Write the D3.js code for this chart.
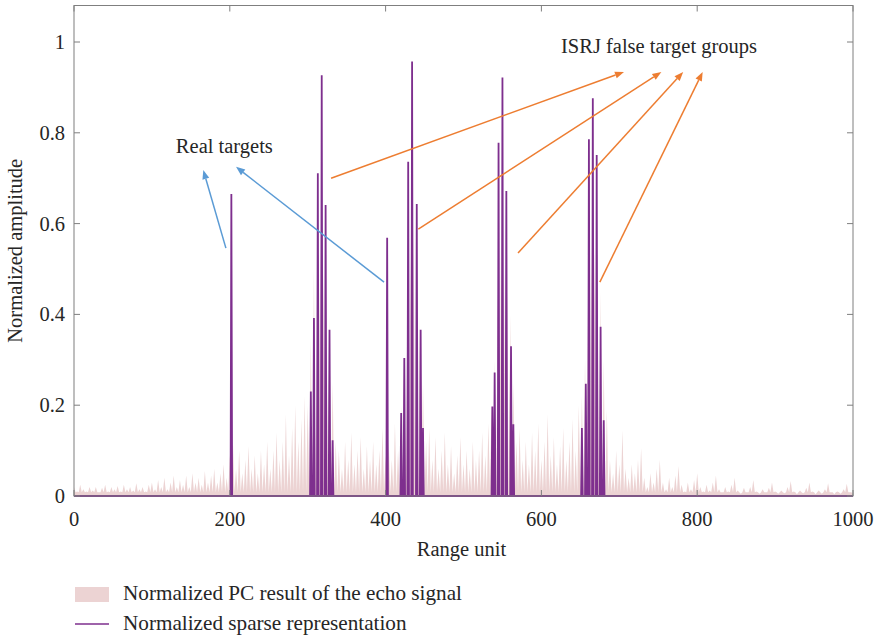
<!DOCTYPE html>
<html><head><meta charset="utf-8">
<script src="https://cdn.jsdelivr.net/npm/d3@7"></script>
<style>body{margin:0;background:#fff}svg{display:block}text{font-family:"Liberation Serif","DejaVu Serif",serif;fill:#262626}</style>
</head><body><svg id="c" width="874" height="637"></svg>
<script>
// ---- data ----
const xTicks = [0, 200, 400, 600, 800, 1000];
const yTicks = [0, 0.2, 0.4, 0.6, 0.8, 1];
const yTickLabels = ["0", "0.2", "0.4", "0.6", "0.8", "1"];
// sparse representation: spike positions (range unit) and amplitudes
const spikePos = [202, 402,
  304, 308, 313, 318, 323, 328, 332,
  420, 424, 429, 434, 440, 445, 448,
  537, 540, 545, 550, 555, 561, 564,
  652, 657, 661, 666, 671, 676, 680];
const spikeAmp = [0.665, 0.569,
  0.23, 0.392, 0.711, 0.927, 0.641, 0.366, 0.123,
  0.183, 0.304, 0.736, 0.957, 0.643, 0.366, 0.15,
  0.197, 0.272, 0.778, 0.922, 0.672, 0.33, 0.158,
  0.15, 0.247, 0.786, 0.876, 0.751, 0.373, 0.167];
// normalized PC result, peak values every 4 range units (0..1000)
const pcStep = 4;
const pcValues = [
  0.02,0.01,0.025,0.015,0.01,0.02,0.012,0.02,0.008,0.018,0.025,0.01,0.02,0.015,0.022,0.01,0.025,0.015,0.02,0.012,0.028,0.015,0.02,0.01,0.025,
  0.03,0.015,0.035,0.02,0.04,0.015,0.03,0.045,0.02,0.035,0.025,0.045,0.02,0.05,0.03,0.04,0.025,0.055,0.03,0.045,0.06,0.03,0.05,0.07,0.04,
  0.09,0.12,0.06,0.1,0.05,0.08,0.11,0.06,0.09,0.05,0.1,0.07,0.12,0.06,0.1,0.14,0.08,0.12,0.18,0.09,0.15,0.2,0.12,0.17,0.22,
  0.2,0.35,0.5,0.45,0.55,0.5,0.45,0.4,0.25,0.12,0.1,0.06,0.12,0.08,0.14,0.07,0.1,0.13,0.06,0.11,0.08,0.12,0.07,0.1,0.15,
  0.09,0.12,0.08,0.16,0.1,0.2,0.3,0.45,0.55,0.6,0.5,0.4,0.25,0.12,0.15,0.08,0.13,0.06,0.1,0.14,0.07,0.11,0.05,0.09,0.13,
  0.07,0.1,0.06,0.12,0.08,0.1,0.14,0.09,0.16,0.2,0.3,0.45,0.55,0.5,0.45,0.4,0.25,0.12,0.15,0.08,0.12,0.07,0.14,0.1,0.16,
  0.08,0.12,0.18,0.09,0.13,0.07,0.11,0.15,0.08,0.12,0.17,0.1,0.2,0.22,0.3,0.45,0.55,0.55,0.5,0.45,0.3,0.19,0.08,0.05,0.1,
  0.07,0.145,0.06,0.04,0.07,0.05,0.08,0.106,0.04,0.02,0.05,0.03,0.06,0.08,0.03,0.015,0.04,0.02,0.045,0.066,0.025,0.01,0.03,0.015,0.035,
  0.05,0.02,0.01,0.025,0.012,0.03,0.045,0.015,0.008,0.02,0.01,0.025,0.04,0.012,0.005,0.018,0.008,0.02,0.035,0.01,0.005,0.015,0.008,0.018,0.03,
  0.01,0.005,0.012,0.006,0.02,0.033,0.01,0.004,0.012,0.006,0.018,0.03,0.01,0.004,0.012,0.005,0.015,0.028,0.008,0.004,0.01,0.005,0.015,0.027,0.008,
  0.004];
// annotations (data coords)
const realLabel = {text: "Real targets", x: 193, y: 0.755};
const isrjLabel = {text: "ISRJ false target groups", x: 751, y: 0.976};
const blueArrows = [[195, 0.546, 166, 0.718], [398, 0.471, 208, 0.725]];
const orangeArrows = [[330, 0.700, 706, 0.934], [442, 0.588, 754, 0.934], [570, 0.535, 782, 0.934], [675, 0.471, 807, 0.934]];
const legendLabels = ["Normalized PC result of the echo signal", "Normalized sparse representation"];

// ---- chart ----
const svg = d3.select("#c");
const L = 74, R = 853, T = 5.5, B = 496;
const x = d3.scaleLinear().domain([0, 1000]).range([L, R]);
const y = d3.scaleLinear().domain([0, 1]).range([B, B - 454]);
const purple = "#7e2f8e", pink = "#ecd3d3", axisCol = "#7f7f7f";

// PC result drawn as a comb of narrow peaks
const pcPts = [];
pcValues.forEach((v, i) => { const c = i * pcStep; pcPts.push([c - pcStep / 2, 0.008], [c, v], [c + pcStep / 2, 0.008]); });
svg.append("path").datum(pcPts.filter(d => d[0] >= 0 && d[0] <= 1000))
  .attr("d", d3.area().x(d => x(d[0])).y0(y(0)).y1(d => y(d[1])))
  .attr("fill", pink).attr("stroke", "none");

// sparse line
const order = d3.range(spikePos.length).sort((a, b) => spikePos[a] - spikePos[b]);
const sp = [[0, 0]];
order.forEach(i => { sp.push([spikePos[i] - 1, 0], [spikePos[i], spikeAmp[i]], [spikePos[i] + 1, 0]); });
sp.push([1000, 0]);
svg.append("path").datum(sp)
  .attr("d", d3.line().x(d => x(d[0])).y(d => y(d[1])))
  .attr("fill", "none").attr("stroke", purple).attr("stroke-width", 1.8).attr("stroke-linejoin", "miter");

// frame and axes
svg.append("rect").attr("x", L).attr("y", T).attr("width", R - L).attr("height", B - T)
  .attr("fill", "none").attr("stroke", axisCol).attr("stroke-width", 1);
const fs = 20.5;
const gx = svg.append("g");
xTicks.forEach(t => {
  gx.append("line").attr("x1", x(t)).attr("x2", x(t)).attr("y1", B).attr("y2", B - 6).attr("stroke", axisCol);
  gx.append("line").attr("x1", x(t)).attr("x2", x(t)).attr("y1", T).attr("y2", T + 6).attr("stroke", axisCol);
  gx.append("text").attr("x", x(t)).attr("y", B + 30).attr("text-anchor", "middle").attr("font-size", fs).text(t);
});
yTicks.forEach((t, i) => {
  gx.append("line").attr("x1", L).attr("x2", L + 6).attr("y1", y(t)).attr("y2", y(t)).attr("stroke", axisCol);
  gx.append("line").attr("x1", R).attr("x2", R - 6).attr("y1", y(t)).attr("y2", y(t)).attr("stroke", axisCol);
  gx.append("text").attr("x", L - 9).attr("y", y(t) + 7).attr("text-anchor", "end").attr("font-size", fs).text(yTickLabels[i]);
});
svg.append("text").attr("x", (L + R) / 2 - 2).attr("y", 556).attr("text-anchor", "middle").attr("font-size", fs).text("Range unit");
svg.append("text").attr("transform", `translate(22,${(T + B) / 2}) rotate(-90)`).attr("text-anchor", "middle").attr("font-size", fs).text("Normalized amplitude");

// annotations
function arrow(a, col) {
  const x1 = x(a[0]), y1 = y(a[1]), x2 = x(a[2]), y2 = y(a[3]);
  const ang = Math.atan2(y2 - y1, x2 - x1), hl = 9, hw = 3.5;
  const bx = x2 - hl * Math.cos(ang), by = y2 - hl * Math.sin(ang);
  svg.append("line").attr("x1", x1).attr("y1", y1).attr("x2", bx).attr("y2", by).attr("stroke", col).attr("stroke-width", 1.5);
  const px = -Math.sin(ang) * hw, py = Math.cos(ang) * hw;
  svg.append("path").attr("d", `M${x2},${y2}L${bx + px},${by + py}L${bx - px},${by - py}Z`).attr("fill", col);
}
blueArrows.forEach(a => arrow(a, "#5b9bd5"));
orangeArrows.forEach(a => arrow(a, "#ed7d31"));
[realLabel, isrjLabel].forEach(l => svg.append("text").attr("x", x(l.x)).attr("y", y(l.y)).attr("text-anchor", "middle").attr("font-size", fs).text(l.text));

// legend
const lfs = 21.2;
svg.append("rect").attr("x", 75).attr("y", 587).attr("width", 34).attr("height", 15).attr("fill", pink);
svg.append("text").attr("x", 123).attr("y", 600).attr("font-size", lfs).text(legendLabels[0]);
svg.append("line").attr("x1", 75).attr("x2", 109).attr("y1", 624).attr("y2", 624).attr("stroke", purple).attr("stroke-width", 1.6);
svg.append("text").attr("x", 123).attr("y", 630).attr("font-size", lfs).text(legendLabels[1]);
</script></body></html>
